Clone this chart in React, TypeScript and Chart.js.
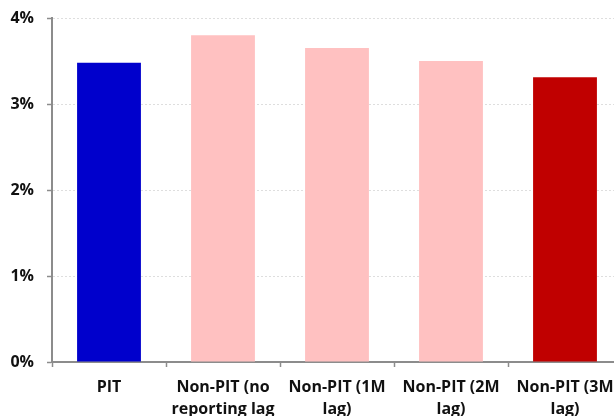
import React, { useEffect, useRef } from "react";
import { Chart, registerables } from "chart.js";

Chart.register(...registerables);

const categories: string[][] = [
  ["PIT"],
  ["Non-PIT (no", "reporting lag", ")"],
  ["Non-PIT (1M", "lag)"],
  ["Non-PIT (2M", "lag)"],
  ["Non-PIT (3M", "lag)"],
];
const returns: number[] = [3.48, 3.8, 3.65, 3.5, 3.31];
const barColors: string[] = ["#0000CC", "#FFC1C1", "#FFC1C1", "#FFC1C1", "#C00000"];
const yTicks: number[] = [0, 1, 2, 3, 4];

const CANVAS_W = 640;
const CANVAS_H = 450;
const FONT = "'Open Sans', Lato, sans-serif";

export default function App() {
  const ref = useRef<HTMLCanvasElement | null>(null);

  useEffect(() => {
    document.documentElement.style.overflow = "hidden";
    document.body.style.overflow = "hidden";
    document.body.style.margin = "0";
    const canvas = ref.current;
    if (!canvas) return;
    const chart = new Chart(canvas, {
      type: "bar",
      data: {
        labels: categories,
        datasets: [
          {
            data: returns,
            backgroundColor: barColors,
            borderWidth: 0,
            categoryPercentage: 1,
            barPercentage: 0.56,
          },
        ],
      },
      options: {
        responsive: false,
        animation: false,
        devicePixelRatio: 1,
        layout: { padding: { top: 18, right: CANVAS_W - 622, left: 0, bottom: 0 } },
        plugins: {
          legend: { display: false },
          tooltip: { enabled: false },
        },
        scales: {
          x: {
            offset: true,
            grid: {
              offset: true,
              drawOnChartArea: false,
              drawTicks: true,
              tickLength: 5,
              tickColor: "#8c8c8c",
              tickWidth: 1.5,
            },
            border: { color: "#8c8c8c", width: 2 },
            ticks: {
              color: "#111",
              font: { family: FONT, size: 16, weight: "bold", lineHeight: 1.35 },
              padding: 10,
              maxRotation: 0,
              autoSkip: false,
            },
            afterFit: (scale: any) => {
              scale.height = CANVAS_H - 362;
              scale.paddingLeft = 0;
              scale.paddingRight = 0;
            },
          },
          y: {
            min: 0,
            max: 4,
            afterBuildTicks: (scale: any) => {
              scale.ticks = yTicks.map((v) => ({ value: v }));
            },
            grid: {
              color: "#dedede",
              lineWidth: 1,
              tickColor: "#8c8c8c",
              tickLength: 5,
              tickWidth: 1.5,
            },
            border: { color: "#8c8c8c", width: 2, dash: [2, 2] },
            ticks: {
              color: "#111",
              font: { family: FONT, size: 16, weight: "bold" },
              padding: 13,
              callback: (v: any) => `${v}%`,
            },
            afterFit: (scale: any) => {
              scale.width = 52;
              scale.paddingTop = 0;
              scale.paddingBottom = 0;
            },
          },
        },
      },
    });
    return () => chart.destroy();
  }, []);

  return (
    <div style={{ position: "fixed", left: 0, top: 0, width: CANVAS_W, height: CANVAS_H, background: "#fff" }}>
      <canvas ref={ref} width={CANVAS_W} height={CANVAS_H} style={{ width: CANVAS_W, height: CANVAS_H, display: "block" }} />
    </div>
  );
}
